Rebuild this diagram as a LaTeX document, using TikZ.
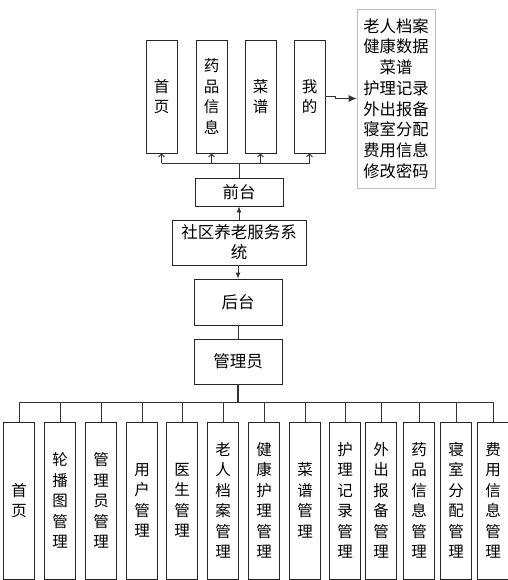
\documentclass[tikz,border=0pt]{standalone}
\usepackage{fontspec}
\setmainfont{Noto Sans CJK SC}
\usetikzlibrary{arrows.meta}

\tikzset{
  box/.style={draw=black!85, line width=0.8pt, minimum width=31pt, align=center, inner sep=0pt, font=\fontsize{15.5}{20.5}\selectfont},
  topbox/.style={box, minimum height=113pt},
  lowbox/.style={box, minimum height=157pt},
  midbox/.style={draw=black!85, line width=0.8pt, align=center, inner sep=0pt, font=\fontsize{16.5}{20}\selectfont},
  conn/.style={draw=black!80, line width=0.8pt},
  tick/.style={conn, -{Straight Barb[length=3pt,width=6pt]}},
  arr/.style={conn, -{Latex[length=6pt,width=5pt]}}
}

\begin{document}
\begin{tikzpicture}[x=1pt,y=-1pt]
\useasboundingbox (0,0) rectangle (507,580);
% front end pages
\node[topbox] (shouye) at (161.5,96.5) {首\\页};
\node[topbox] (yaopin) at (211.5,96.5) {药\\品\\信\\息};
\node[topbox] (caipu) at (260.5,96.5) {菜\\谱};
\node[topbox] (wode) at (309.5,96.5) {我\\的};
\node[draw=black!25, line width=0.8pt, minimum width=78pt, minimum height=179pt, align=center, inner sep=0pt, font=\fontsize{16.3}{20.7}\selectfont] (liebiao) at (396,98.5)
  {老人档案\\健康数据\\菜谱\\护理记录\\外出报备\\寝室分配\\费用信息\\修改密码};
% middle column
\node[midbox, minimum width=88pt, minimum height=28pt] (qiantai) at (239,192) {前台};
\node[midbox, minimum width=134pt, minimum height=45pt] (xitong) at (239,242.5) {社区养老服务系\\统};
\node[midbox, minimum width=88pt, minimum height=46pt] (houtai) at (238,302) {后台};
\node[midbox, minimum width=88pt, minimum height=45pt] (guanli) at (238,361.5) {管理员};
% back end pages
\node[lowbox] (b1) at (19,500.5) {首\\页};
\node[lowbox] (b2) at (60,500.5) {轮\\播\\图\\管\\理};
\node[lowbox] (b3) at (101,500.5) {管\\理\\员\\管\\理};
\node[lowbox] (b4) at (142,500.5) {用\\户\\管\\理};
\node[lowbox] (b5) at (182,500.5) {医\\生\\管\\理};
\node[lowbox] (b6) at (223,500.5) {老\\人\\档\\案\\管\\理};
\node[lowbox] (b7) at (264,500.5) {健\\康\\护\\理\\管\\理};
\node[lowbox] (b8) at (305,500.5) {菜\\谱\\管\\理};
\node[lowbox] (b9) at (345,500.5) {护\\理\\记\\录\\管\\理};
\node[lowbox] (b10) at (381,500.5) {外\\出\\报\\备\\管\\理};
\node[lowbox] (b11) at (419,500.5) {药\\品\\信\\息\\管\\理};
\node[lowbox] (b12) at (456,500.5) {寝\\室\\分\\配\\管\\理};
\node[lowbox] (b13) at (493,500.5) {费\\用\\信\\息\\管\\理};
% top connectors
\coordinate (topbus) at (239,163);
\draw[conn] (qiantai.north) -- (topbus);
\draw[conn] (shouye.south |- topbus) -- (wode.south |- topbus);
\draw[tick] (shouye.south |- topbus) -- (shouye.south);
\draw[tick] (yaopin.south |- topbus) -- (yaopin.south);
\draw[tick] (caipu.south |- topbus) -- (caipu.south);
\draw[tick] (wode.south |- topbus) -- (wode.south);
\draw[conn, -{Latex[length=8pt,width=7pt]}] (wode.east) -- ++(10,0) |- (liebiao.west);
% middle connectors
\draw[arr] (xitong.north) -- (qiantai.south);
\draw[arr] (xitong.south -| houtai.north) -- (houtai.north);
\draw[conn] (houtai.south) -- (guanli.north);
% bottom connectors
\coordinate (lowbus) at (238,402);
\draw[conn, line width=1.4pt] (guanli.south) -- (lowbus);
\draw[conn] (b1.north |- lowbus) -- (b13.north |- lowbus);
\draw[conn] (b1.north |- lowbus) -- (b1.north);
\draw[conn] (b2.north |- lowbus) -- (b2.north);
\draw[conn] (b3.north |- lowbus) -- (b3.north);
\draw[conn] (b4.north |- lowbus) -- (b4.north);
\draw[conn] (b5.north |- lowbus) -- (b5.north);
\draw[conn] (b6.north |- lowbus) -- (b6.north);
\draw[conn] (b7.north |- lowbus) -- (b7.north);
\draw[conn] (b8.north |- lowbus) -- (b8.north);
\draw[conn] (b9.north |- lowbus) -- (b9.north);
\draw[conn] (b10.north |- lowbus) -- (b10.north);
\draw[conn] (b11.north |- lowbus) -- (b11.north);
\draw[conn] (b12.north |- lowbus) -- (b12.north);
\draw[conn] (b13.north |- lowbus) -- (b13.north);
\end{tikzpicture}
\end{document}
